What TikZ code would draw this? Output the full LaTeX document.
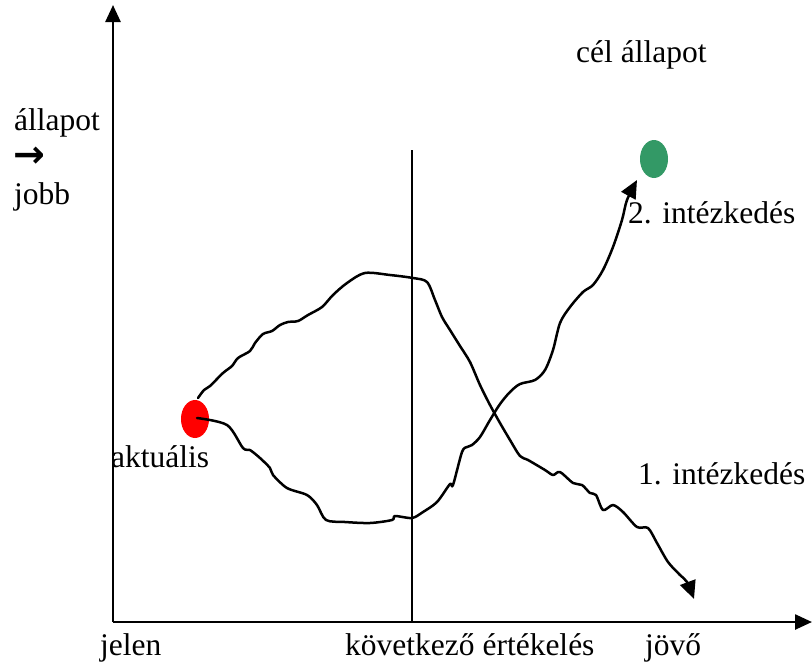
\documentclass[tikz,border=0pt]{standalone}
\usepackage{fontspec}
\setmainfont{Liberation Serif}
\newfontfamily\arrowfont{DejaVu Sans}
\usetikzlibrary{arrows.meta,shapes.geometric}
\definecolor{goalgreen}{RGB}{51,153,102}
\tikzset{
  lbl/.style={anchor=base west,inner sep=0pt,font=\fontsize{31.5}{36}\selectfont},
  axisline/.style={line width=2.5pt,-{Triangle[length=17pt,width=15pt]}},
  pathline/.style={line width=2.5pt,line join=round,line cap=round},
  arrowpath/.style={pathline,-{Triangle[length=18pt,width=16pt]}},
  state/.style={ellipse,minimum width=28pt,minimum height=38pt,inner sep=0pt}
}
\begin{document}
\begin{tikzpicture}[x=1pt,y=-1pt]
\useasboundingbox (0,0) rectangle (812,665);
% axes
\coordinate (O) at (113,622);
\coordinate (ytop) at (113,5);
\coordinate (xend) at (812,622);
\draw[axisline] (O) -- (ytop);
\draw[axisline] (O) -- (xend);
% next evaluation line
\coordinate (vtop) at (412,150);
\coordinate (vbot) at (412,622);
\draw[line width=1.6pt] (vtop) -- (vbot);
% states
\node[state,fill=red] (akt) at (195,419) {};
\node[state,fill=goalgreen] (cel) at (654,159) {};
% labels
\node[lbl] (celtxt) at (576,62) {cél állapot};
\node[lbl] (yl1) at (14,130) {állapot};
\node[lbl,font=\fontsize{38}{42}\arrowfont\bfseries] (yl2) at (13,167) {→};
\node[lbl] (yl3) at (14,204) {jobb};
\node[lbl] (i2) at (628,223) {2. intézkedés};
\node[lbl] (akttxt) at (111,467) {aktuális};
\node[lbl] (i1) at (638,484) {1. intézkedés};
\node[lbl] (jelen) at (100,655) {jelen};
\node[lbl] (kov) at (345,655) {következő értékelés};
\node[lbl] (jovo) at (645,655) {jövő};
% 1. intézkedés: upper path going down
\draw[arrowpath] plot[smooth,tension=0.5] coordinates {
 (198,398) (204,390) (210,386) (223,373) (232,366) (238,358) (250,351) (255,343)
 (263,334) (272,331) (280,325) (288,322) (298,321) (308,315) (322,307) (333,295)
 (347,283) (365,273) (390,275) (413,278) (427,282) (435,300) (442,317) (450,330)
 (460,346) (470,362) (480,385) (490,405) (500,423) (510,440) (520,456) (528,460)
 (545,470) (553,475) (560,472) (573,483) (582,485) (590,493) (596,495) (603,510)
 (613,505) (623,512) (637,527) (648,528) (657,543) (668,562) (680,575) (687,582) (694,599)};
% 2. intézkedés: lower path going up
\draw[arrowpath] plot[smooth,tension=0.5] coordinates {
 (197,418) (227,425) (243,448) (250,450) (260,458) (270,468) (273,475) (287,488)
 (307,495) (317,505) (326,520) (345,522) (370,523) (392,520) (395,516) (412,518)
 (423,512) (437,502) (450,484) (453,485) (462,452) (467,447) (472,445) (480,437)
 (490,420) (500,404) (510,392) (520,384) (535,380) (545,370) (553,350) (560,323)
 (570,307) (583,292) (593,285) (603,270) (613,247) (622,220) (627,200) (637,180)};
\end{tikzpicture}
\end{document}
